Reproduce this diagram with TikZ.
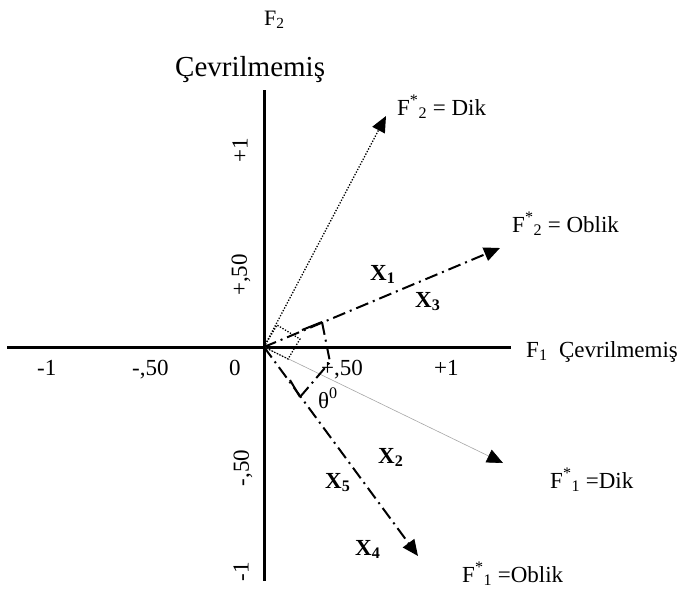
\documentclass[tikz,border=0pt]{standalone}
\usepackage{fontspec}
\setmainfont{Liberation Serif}
\usetikzlibrary{arrows.meta}
\begin{document}
\begin{tikzpicture}[x=1pt,y=-1pt,
  axisline/.style={line width=3pt},
  lbl/.style={anchor=base west,inner sep=0pt,font=\fontsize{23}{27}\selectfont},
  rlbl/.style={anchor=center,inner sep=0pt,rotate=90,font=\fontsize{23}{27}\selectfont},
  xl/.style={anchor=base west,inner sep=0pt,font=\fontsize{23}{27}\selectfont\bfseries},
  tip/.style={-{Triangle[length=16pt,width=14pt,color=black]}},
  dotpat/.style={line width=1.3pt,dash pattern=on 1.3pt off 1.6pt},
  dotline/.style={tip,dotpat},
  greyline/.style={tip,line width=0.6pt,draw=black!35},
  dashdot/.style={line width=2pt,dash pattern=on 13pt off 5pt on 2pt off 5pt},
  cornerseg/.style={line width=2pt}]
\useasboundingbox (0,0) rectangle (684,592);
% axes
\coordinate (O) at (264,347);
\coordinate (xl) at (7,347);
\coordinate (xr) at (511,347);
\coordinate (yt) at (264,90);
\coordinate (yb) at (264,581);
\draw[axisline] (xl) -- (xr);
\draw[axisline] (yt) -- (yb);
% tips
\coordinate (d2) at (386,116);
\coordinate (o2) at (500,248);
\coordinate (d1) at (503,463);
\coordinate (o1) at (418,556);
\draw[dotline] (O) -- (d2);
\draw[greyline] (O) -- (d1);
\draw[dashdot,tip] (O) -- (o2);
\draw[dashdot,tip] (O) -- (o1);
% dotted square
\coordinate (s1) at (277,325);
\coordinate (s2) at (300,339);
\coordinate (s3) at (288,359);
\draw[dotpat] (O) -- (s1) -- (s2) -- (s3) -- cycle;
% projection lines
\coordinate (P) at (330,362);
\coordinate (fa) at (322,322);
\coordinate (fa0) at (302,330);
\coordinate (fb) at (300,397);
\coordinate (fb0) at (290,380);
\draw[cornerseg] (fa0) -- (fa);
\draw[dashdot] (fa) -- (P);
\draw[cornerseg] (fb0) -- (fb);
\draw[dashdot] (fb) -- (P);
% labels
\node[anchor=base west,inner sep=0pt,font=\fontsize{22}{26}\selectfont] (tF2) at (264,25) {F\textsubscript{2}};
\node[anchor=base west,inner sep=0pt,font=\fontsize{29}{33}\selectfont] (tC) at (175,76) {Çevrilmemiş};
\node[lbl] (tF1) at (526,357) {F\textsubscript{1}\ \ Çevrilmemiş};
\node[lbl] (ld2) at (397,115) {F\textsuperscript{*}\textsubscript{2} = Dik};
\node[lbl] (lo2) at (512,232) {F\textsuperscript{*}\textsubscript{2} = Oblik};
\node[lbl] (ld1) at (550,488) {F\textsuperscript{*}\textsubscript{1} =Dik};
\node[lbl] (lo1) at (462,582) {F\textsuperscript{*}\textsubscript{1} =Oblik};
\node[lbl] (th) at (318,408) {θ\textsuperscript{0}};
\node[xl] (x1) at (370,280) {X\textsubscript{1}};
\node[xl] (x3) at (415,307) {X\textsubscript{3}};
\node[xl] (x2) at (378,463) {X\textsubscript{2}};
\node[xl] (x5) at (325,488) {X\textsubscript{5}};
\node[xl] (x4) at (355,555) {X\textsubscript{4}};
% horizontal ticks
\node[lbl] (hm1) at (37,375) {-1};
\node[lbl] (hm5) at (132,375) {-,50};
\node[lbl] (h0) at (229,375) {0};
\node[lbl] (hp5) at (321,375) {+,50};
\node[lbl] (hp1) at (434,375) {+1};
% vertical ticks
\node[rlbl] (vp1) at (240,150) {+1};
\node[rlbl] (vp5) at (241,275) {+,50};
\node[rlbl] (vm5) at (243,468) {-,50};
\node[rlbl] (vm1) at (241,572) {-1};
\end{tikzpicture}
\end{document}
